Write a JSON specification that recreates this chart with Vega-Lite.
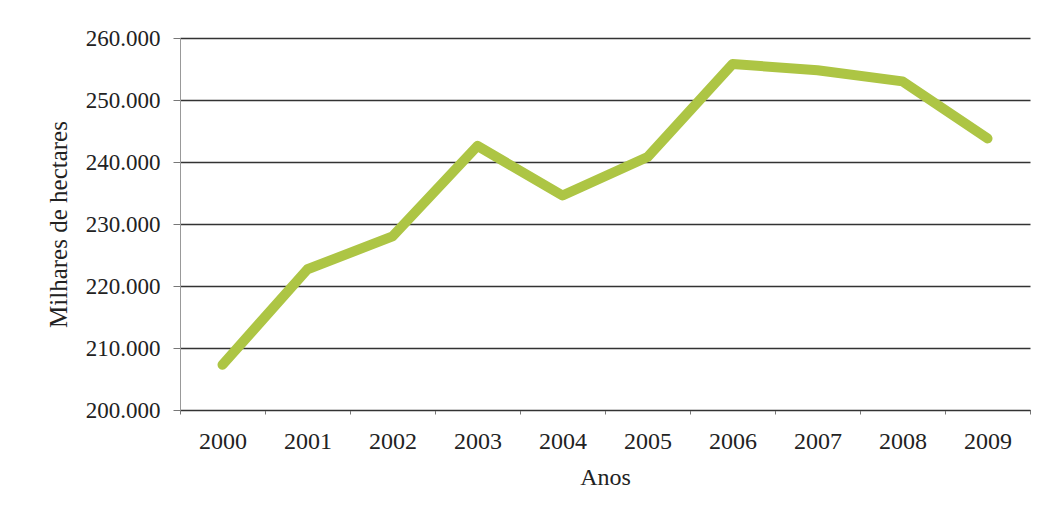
{
  "$schema": "https://vega.github.io/schema/vega-lite/v6.json",
  "autosize": "none",
  "width": 850,
  "height": 372,
  "padding": {"left": 180, "top": 38, "right": 15, "bottom": 109},
  "background": "white",
  "config": {
    "view": {"stroke": null},
    "font": "Liberation Serif"
  },
  "data": {
    "values": [
      {"ano": "2000", "valor": 207300},
      {"ano": "2001", "valor": 222700},
      {"ano": "2002", "valor": 228000},
      {"ano": "2003", "valor": 242600},
      {"ano": "2004", "valor": 234600},
      {"ano": "2005", "valor": 240800},
      {"ano": "2006", "valor": 255800},
      {"ano": "2007", "valor": 254800},
      {"ano": "2008", "valor": 253000},
      {"ano": "2009", "valor": 243800}
    ]
  },
  "mark": {"type": "line", "color": "#adc544", "strokeWidth": 10, "strokeCap": "round", "strokeJoin": "round"},
  "encoding": {
    "x": {
      "field": "ano",
      "type": "ordinal",
      "scale": {"type": "band", "paddingInner": 0, "paddingOuter": 0},
      "axis": {
        "title": "Anos",
        "labelAngle": 0,
        "labelFont": "Liberation Serif",
        "labelFontSize": 24,
        "labelColor": "#222",
        "labelPadding": 15,
        "tickBand": "extent",
        "tickSize": 4,
        "tickColor": "#777",
        "domainColor": "#333",
        "domainWidth": 1.2,
        "titleFont": "Liberation Serif",
        "titleFontSize": 24,
        "titleFontWeight": "normal",
        "titleColor": "#222",
        "titlePadding": 12,
        "grid": false
      }
    },
    "y": {
      "field": "valor",
      "type": "quantitative",
      "scale": {"domain": [200000, 260000], "nice": false, "zero": false},
      "axis": {
        "title": "Milhares de hectares",
        "values": [200000, 210000, 220000, 230000, 240000, 250000, 260000],
        "labelExpr": "replace(format(datum.value, ',.0f'), ',', '.')",
        "labelFont": "Liberation Serif",
        "labelFontSize": 23,
        "labelColor": "#222",
        "labelPadding": 13,
        "tickSize": 7,
        "tickColor": "#777",
        "domainColor": "#999",
        "domainWidth": 1,
        "grid": true,
        "gridColor": "#333",
        "gridWidth": 1.3,
        "gridOpacity": 1,
        "titleFont": "Liberation Serif",
        "titleFontSize": 25,
        "titleFontWeight": "normal",
        "titleColor": "#222",
        "titlePadding": 14
      }
    }
  }
}
